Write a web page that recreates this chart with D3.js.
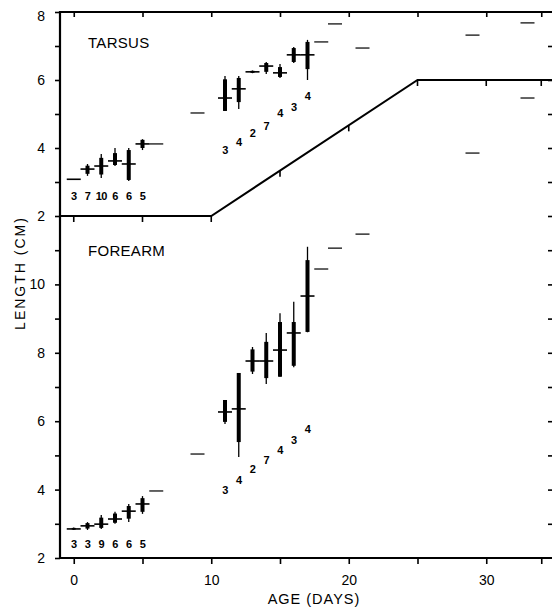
<!DOCTYPE html>
<html>
<head>
<meta charset="utf-8">
<script src="https://cdn.jsdelivr.net/npm/d3@7"></script>
<style>
  html, body { margin: 0; padding: 0; background: #fff; }
  svg { display: block; }
  text { font-family: "Liberation Sans", Arial, sans-serif; fill: #000; }
</style>
</head>
<body>
<svg id="chart" width="552" height="608"></svg>
<script>
// Age (days) of the groups with several animals measured
const days = [0, 1, 2, 3, 4, 5, 11, 12, 13, 14, 15, 16, 17];
const sampleSizes = [3, 7, 10, 6, 6, 5, 3, 4, 2, 7, 4, 3, 4];
const forearmSampleSizes = [3, 3, 9, 6, 6, 5, 3, 4, 2, 7, 4, 3, 4];

// Tarsus length (cm): mean, range and the standard-deviation band
const tarsusMean = [3.08, 3.38, 3.47, 3.62, 3.53, 4.12, 5.47, 5.74, 6.24, 6.41, 6.21, 6.74, 6.74];
const tarsusMin  = [3.08, 3.18, 3.12, 3.47, 3.03, 3.94, 5.09, 5.15, 6.20, 6.18, 6.06, 6.50, 6.00];
const tarsusMax  = [3.08, 3.53, 3.82, 4.00, 4.00, 4.26, 6.12, 6.12, 6.28, 6.53, 6.47, 6.97, 7.18];
const tarsusSdLo = [3.08, 3.24, 3.22, 3.50, 3.06, 4.00, 5.09, 5.35, 6.21, 6.24, 6.09, 6.53, 6.32];
const tarsusSdHi = [3.08, 3.48, 3.71, 3.85, 3.94, 4.24, 6.02, 6.06, 6.27, 6.50, 6.38, 6.94, 7.12];
// heights at which the sample sizes are printed
const tarsusCountLevel = [2.59, 2.59, 2.59, 2.59, 2.59, 2.59, 3.94, 4.18, 4.44, 4.65, 5.03, 5.20, 5.53];

// Forearm length (cm)
const forearmMean = [2.85, 2.94, 2.99, 3.14, 3.37, 3.58, 6.27, 6.36, 7.76, 7.76, 8.08, 8.58, 9.66];
const forearmMin  = [2.82, 2.82, 2.85, 3.00, 3.05, 3.29, 5.92, 4.95, 7.38, 7.09, 7.30, 7.58, 8.60];
const forearmMax  = [2.89, 3.05, 3.26, 3.35, 3.58, 3.81, 6.62, 7.41, 8.17, 8.58, 9.16, 9.49, 11.10];
const forearmSdLo = [2.83, 2.86, 2.88, 3.03, 3.15, 3.35, 5.98, 5.39, 7.45, 7.26, 7.30, 7.62, 8.61];
const forearmSdHi = [2.88, 3.02, 3.18, 3.30, 3.52, 3.75, 6.62, 7.41, 8.10, 8.32, 8.90, 8.90, 10.71];
const forearmCountLevel = [2.41, 2.41, 2.41, 2.41, 2.41, 2.41, 3.99, 4.28, 4.60, 4.87, 5.16, 5.45, 5.77];

// Single animals
const tarsusSingleDays = [6, 9, 18, 19, 21, 29, 33];
const tarsusSingle     = [4.12, 5.03, 7.12, 7.65, 6.94, 7.32, 7.68];
const forearmSingleDays = [6, 9, 18, 19, 21, 29, 33];
const forearmSingle     = [3.96, 5.04, 10.45, 11.06, 11.47, 13.84, 15.45];

// Axis ticks
const dayTicks = [0, 5, 10, 15, 20, 25, 30, 34];
const dayLabels = [0, 10, 20, 30];
const tarsusTicks = [2, 3, 4, 5, 6, 7, 8];
const tarsusLabels = [2, 4, 6, 8];
const forearmTicks = [2, 3, 4, 5, 6, 7, 8, 9, 10, 11];
const forearmLabels = [2, 4, 6, 8, 10];
const rightTarsusTicks = [3, 4, 5, 6, 7];
const rightForearmTicks = [3, 4, 5, 6, 7, 8, 9, 10, 11, 12];

// Boundary between the two panels (in tarsus units)
const boundaryDays = [-1, 10, 25, 35];
const boundaryLevel = [2, 2, 6, 6];

const svg = d3.select("#chart");

const x = d3.scaleLinear().domain([-1, 35]).range([60, 555]);
const yT = d3.scaleLinear().domain([2, 8]).range([216, 12]);
const yF = d3.scaleLinear().domain([2, 12]).range([558, 216]);
const boundary = d3.scaleLinear().domain(boundaryDays).range(boundaryLevel);

const FONT = '"Liberation Sans", Arial, sans-serif';

function styleAxis(g) {
  g.select(".domain").remove();
  g.selectAll(".tick line").attr("stroke", "#000").attr("stroke-width", 1.6);
  g.selectAll(".tick text").attr("font-family", FONT).attr("font-size", 14).attr("fill", "#000");
}

// Left axis: tarsus part
svg.append("g")
  .attr("transform", `translate(${x(-1)},0)`)
  .call(d3.axisLeft(yT).tickValues(tarsusTicks).tickSize(5).tickPadding(10)
    .tickFormat(d => tarsusLabels.includes(d) ? d : ""))
  .call(styleAxis)
  .call(g => g.selectAll(".tick text").filter(d => d === 8).attr("dy", "0.62em"));

// Left axis: forearm part
svg.append("g")
  .attr("transform", `translate(${x(-1)},0)`)
  .call(d3.axisLeft(yF).tickValues(forearmTicks).tickSize(5).tickPadding(10)
    .tickFormat(d => forearmLabels.includes(d) ? d : ""))
  .call(styleAxis);

// Right-hand ticks (pointing inward)
svg.append("g")
  .attr("transform", `translate(${x(35)},0)`)
  .call(d3.axisLeft(yT).tickValues(rightTarsusTicks).tickSize(7).tickFormat(""))
  .call(styleAxis);
svg.append("g")
  .attr("transform", `translate(${x(35)},0)`)
  .call(d3.axisLeft(yF).tickValues(rightForearmTicks).tickSize(7).tickFormat(""))
  .call(styleAxis);

// Top ticks (pointing inward)
svg.append("g")
  .attr("transform", `translate(0,${yT(8)})`)
  .call(d3.axisBottom(x).tickValues(dayTicks).tickSize(5).tickFormat(""))
  .call(styleAxis);

// Bottom axis
svg.append("g")
  .attr("transform", `translate(0,${yF(2)})`)
  .call(d3.axisBottom(x).tickValues(dayTicks).tickSize(6).tickPadding(11)
    .tickFormat(d => dayLabels.includes(d) ? d : ""))
  .call(styleAxis);

// Frame
svg.append("path")
  .attr("d", `M${x(35)},${yT(8)}H${x(-1)}V${yF(2)}H${x(35)}`)
  .attr("fill", "none").attr("stroke", "#000").attr("stroke-width", 2.2);
svg.append("line")
  .attr("x1", x(35)).attr("x2", x(35)).attr("y1", yT(8)).attr("y2", yF(2))
  .attr("stroke", "#000").attr("stroke-width", 2.2);

// Panel boundary with its day ticks
svg.append("path")
  .datum(boundaryDays.map((d, i) => [d, boundaryLevel[i]]))
  .attr("d", d3.line().x(d => x(d[0])).y(d => yT(d[1])))
  .attr("fill", "none").attr("stroke", "#000").attr("stroke-width", 2);
svg.append("g").selectAll("line")
  .data(dayTicks)
  .join("line")
  .attr("x1", d => x(d)).attr("x2", d => x(d))
  .attr("y1", d => yT(boundary(d)))
  .attr("y2", d => yT(boundary(d)) + 6)
  .attr("stroke", "#000").attr("stroke-width", 1.6);

// Dice-style marks: range line, deviation bar, mean bar
function drawGroups(y, mean, lo, hi, sdLo, sdHi) {
  const rows = days.map((d, i) => ({ d, m: mean[i], lo: lo[i], hi: hi[i], sl: sdLo[i], sh: sdHi[i] }));
  const g = svg.append("g");
  g.selectAll(".range").data(rows.filter(r => r.hi > r.lo)).join("line")
    .attr("x1", r => x(r.d)).attr("x2", r => x(r.d))
    .attr("y1", r => y(r.hi)).attr("y2", r => y(r.lo))
    .attr("stroke", "#000").attr("stroke-width", 1.3);
  g.selectAll(".sd").data(rows.filter(r => r.sh > r.sl)).join("rect")
    .attr("x", r => x(r.d) - 2).attr("width", 4)
    .attr("y", r => y(r.sh)).attr("height", r => y(r.sl) - y(r.sh))
    .attr("fill", "#000");
  g.selectAll(".mean").data(rows).join("line")
    .attr("x1", r => x(r.d) - 7).attr("x2", r => x(r.d) + 7)
    .attr("y1", r => y(r.m)).attr("y2", r => y(r.m))
    .attr("stroke", "#000").attr("stroke-width", 1.6);
}

function drawSingles(y, dayList, vals) {
  svg.append("g").selectAll("line")
    .data(dayList.map((d, i) => [d, vals[i]]))
    .join("line")
    .attr("x1", d => x(d[0]) - 7).attr("x2", d => x(d[0]) + 7)
    .attr("y1", d => y(d[1])).attr("y2", d => y(d[1]))
    .attr("stroke", "#222").attr("stroke-width", 1.4);
}

function drawCounts(y, counts, levels) {
  svg.append("g").selectAll("text")
    .data(days.map((d, i) => [d, counts[i], levels[i]]))
    .join("text")
    .attr("x", d => x(d[0]))
    .attr("y", d => y(d[2]))
    .attr("dy", "0.36em")
    .attr("text-anchor", "middle")
    .attr("font-size", 11)
    .attr("font-weight", "bold")
    .attr("letter-spacing", -0.5)
    .text(d => d[1]);
}

drawGroups(yT, tarsusMean, tarsusMin, tarsusMax, tarsusSdLo, tarsusSdHi);
drawSingles(yT, tarsusSingleDays, tarsusSingle);
drawCounts(yT, sampleSizes, tarsusCountLevel);

drawGroups(yF, forearmMean, forearmMin, forearmMax, forearmSdLo, forearmSdHi);
drawSingles(yF, forearmSingleDays, forearmSingle);
drawCounts(yF, forearmSampleSizes, forearmCountLevel);

// Panel names
svg.append("text").attr("x", 88).attr("y", 48)
  .attr("font-size", 15).attr("letter-spacing", 0.3).text("TARSUS");
svg.append("text").attr("x", 88).attr("y", 256)
  .attr("font-size", 15).attr("letter-spacing", 0.3).text("FOREARM");

// Axis titles
svg.append("text")
  .attr("transform", "translate(25,273) rotate(-90)")
  .attr("text-anchor", "middle")
  .attr("font-size", 14).attr("letter-spacing", 2)
  .text("LENGTH (CM)");
svg.append("text")
  .attr("x", 314).attr("y", 604)
  .attr("text-anchor", "middle")
  .attr("font-size", 14.5).attr("letter-spacing", 1)
  .text("AGE (DAYS)");
</script>
</body>
</html>
